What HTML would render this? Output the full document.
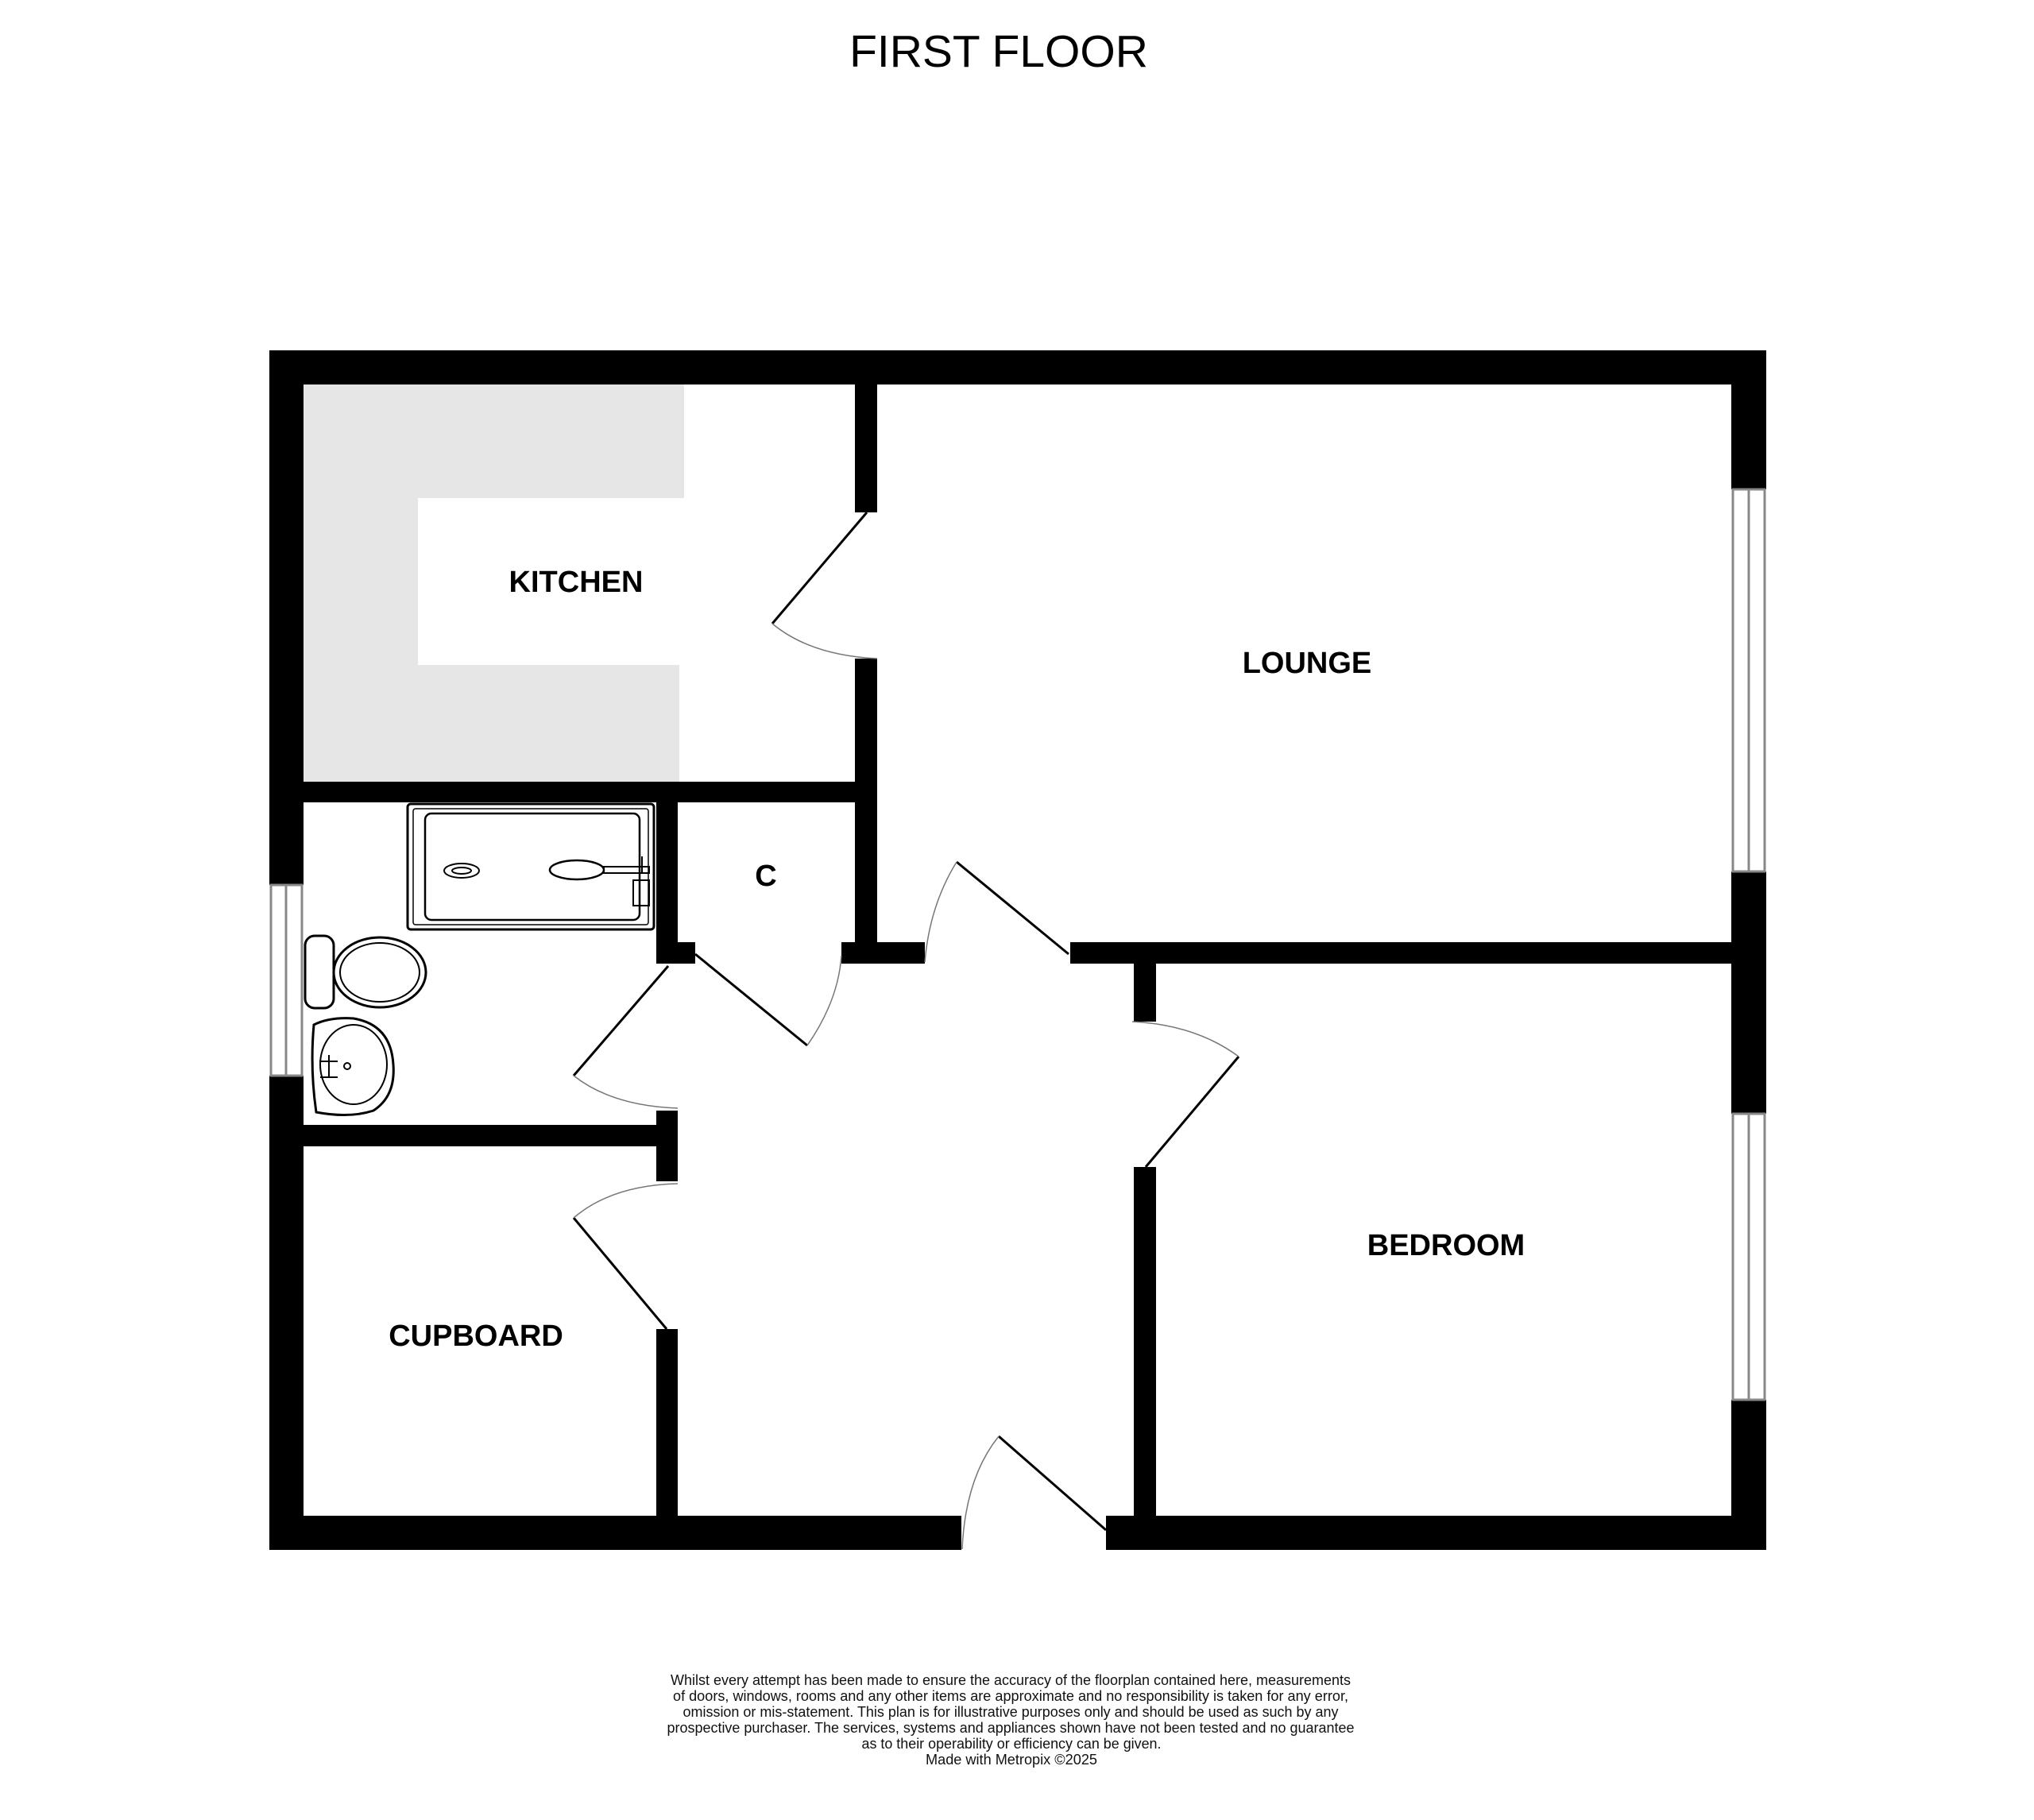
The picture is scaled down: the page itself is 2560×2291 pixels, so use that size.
<!DOCTYPE html>
<html><head><meta charset="utf-8"><style>
html,body{margin:0;padding:0;background:#fff}
svg{display:block}
</style></head><body>
<svg width="2560" height="2291" viewBox="0 0 2560 2291" xmlns="http://www.w3.org/2000/svg" font-family="Liberation Sans, sans-serif">
<rect width="2560" height="2291" fill="#fff"/>
<text x="1257" y="84" font-size="57" text-anchor="middle" fill="#000">FIRST FLOOR</text>

<!-- kitchen grey -->
<path d="M382 484 H861 V627 H526 V837 H855 V984 H382 Z" fill="#e6e6e6"/>

<g fill="#000">
<!-- outer walls -->
<rect x="339" y="441" width="1884" height="43"/>
<rect x="339" y="441" width="43" height="673"/>
<rect x="339" y="1354" width="43" height="597"/>
<rect x="339" y="1908" width="871" height="43"/>
<rect x="1392" y="1908" width="831" height="43"/>
<rect x="2179" y="441" width="44" height="175"/>
<rect x="2179" y="1097" width="44" height="305"/>
<rect x="2179" y="1762" width="44" height="189"/>
<!-- kitchen/lounge wall -->
<rect x="1076" y="484" width="28" height="161"/>
<rect x="1076" y="829" width="28" height="384"/>
<rect x="1059" y="1186" width="105" height="27"/>
<!-- kitchen bottom -->
<rect x="382" y="984" width="722" height="26"/>
<!-- bath right wall -->
<rect x="826" y="1010" width="27" height="203"/>
<rect x="826" y="1186" width="49" height="27"/>
<rect x="826" y="1398" width="27" height="89"/>
<rect x="382" y="1416" width="471" height="27"/>
<rect x="826" y="1673" width="27" height="278"/>
<!-- lounge/bedroom -->
<rect x="1347" y="1186" width="832" height="27"/>
<rect x="1427" y="1213" width="28" height="73"/>
<rect x="1427" y="1469" width="28" height="482"/>
</g>

<!-- windows -->
<g fill="#fff" stroke="#888" stroke-width="3">
<rect x="341" y="1114" width="39" height="240"/>
<line x1="360" y1="1114" x2="360" y2="1354"/>
<rect x="2181" y="616" width="40" height="481"/>
<line x1="2201" y1="616" x2="2201" y2="1097"/>
<rect x="2181" y="1402" width="40" height="360"/>
<line x1="2201" y1="1402" x2="2201" y2="1762"/>
</g>

<!-- doors -->
<g stroke="#000" stroke-width="3" fill="none">
<line x1="1091" y1="645" x2="972" y2="785"/>
<line x1="875" y1="1201" x2="1016" y2="1316"/>
<line x1="841" y1="1216" x2="722" y2="1354"/>
<line x1="839" y1="1673" x2="722" y2="1533"/>
<line x1="1345" y1="1201" x2="1204" y2="1085"/>
<line x1="1442" y1="1469" x2="1559" y2="1330"/>
<line x1="1392" y1="1926" x2="1257" y2="1808"/>
</g>
<g stroke="#777" stroke-width="1.5" fill="none">
<path d="M972 785 Q1020 825 1104 829"/>
<path d="M1016 1316 Q1055 1260 1059 1203"/>
<path d="M722 1354 Q770 1392 853 1395"/>
<path d="M722 1533 Q770 1492 853 1490"/>
<path d="M1204 1085 Q1170 1140 1164 1211"/>
<path d="M1559 1330 Q1505 1290 1425 1286"/>
<path d="M1257 1808 Q1215 1860 1211 1950"/>
</g>

<!-- shower -->
<g stroke="#000" fill="none">
<rect x="513" y="1012" width="310" height="158" rx="4" stroke-width="3"/>
<rect x="520" y="1018" width="296" height="146" rx="3" stroke-width="1.5"/>
<rect x="535" y="1024" width="270" height="134" rx="8" stroke-width="2.5"/>
<ellipse cx="581" cy="1096" rx="22" ry="9" stroke-width="2"/>
<ellipse cx="581" cy="1096" rx="12" ry="4" stroke-width="2"/>
<ellipse cx="726" cy="1095" rx="34" ry="12" stroke-width="2.5"/>
<rect x="760" y="1091" width="57" height="8" stroke-width="2"/>
<line x1="808" y1="1078" x2="808" y2="1100" stroke-width="2"/>
<rect x="797" y="1108" width="20" height="32" stroke-width="2"/>
<!-- toilet -->
<rect x="384" y="1178" width="36" height="91" rx="12" stroke-width="3"/>
<ellipse cx="478" cy="1224" rx="58" ry="44" stroke-width="3"/>
<ellipse cx="478" cy="1224" rx="50" ry="37" stroke-width="2"/>
<!-- basin -->
<path d="M395 1290 Q390 1345 398 1400 Q440 1408 470 1398 Q498 1380 495 1340 Q492 1290 445 1282 Q415 1280 395 1290 Z" stroke-width="3"/>
<ellipse cx="445" cy="1340" rx="42" ry="50" stroke-width="2"/>
<circle cx="437" cy="1342" r="4" stroke-width="2"/>
<path d="M402 1336 H425 M414 1328 V1356 M403 1356 H425" stroke-width="2"/>
</g>

<g font-weight="bold" font-size="38" text-anchor="middle" fill="#000">
<text x="725" y="745">KITCHEN</text>
<text x="1645" y="847">LOUNGE</text>
<text x="1820" y="1580">BEDROOM</text>
<text x="599" y="1694">CUPBOARD</text>
<text x="964" y="1115">C</text>
</g>

<g font-size="18" fill="#111" text-anchor="middle">
<text x="1272" y="2121" textLength="856" lengthAdjust="spacingAndGlyphs">Whilst every attempt has been made to ensure the accuracy of the floorplan contained here, measurements</text>
<text x="1272" y="2141" textLength="850" lengthAdjust="spacingAndGlyphs">of doors, windows, rooms and any other items are approximate and no responsibility is taken for any error,</text>
<text x="1272" y="2161" textLength="825" lengthAdjust="spacingAndGlyphs">omission or mis-statement. This plan is for illustrative purposes only and should be used as such by any</text>
<text x="1272" y="2181" textLength="865" lengthAdjust="spacingAndGlyphs">prospective purchaser. The services, systems and appliances shown have not been tested and no guarantee</text>
<text x="1273" y="2201" textLength="377" lengthAdjust="spacingAndGlyphs">as to their operability or efficiency can be given.</text>
<text x="1273" y="2221" textLength="216" lengthAdjust="spacingAndGlyphs">Made with Metropix ©2025</text>
</g>
</svg>
</body></html>
